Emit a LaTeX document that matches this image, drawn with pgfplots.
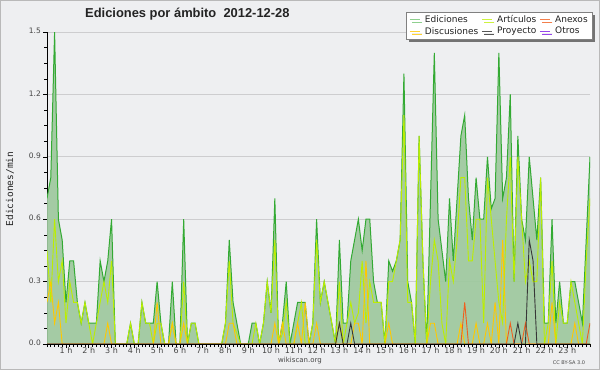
\documentclass[border=0pt]{standalone}
\usepackage{fontspec}
\setmainfont{DejaVu Sans}
\newfontfamily\titlefont{Liberation Sans}
\newfontfamily\ylabfont{DejaVu Sans Mono}
\usepackage{pgfplots}
\pgfplotsset{compat=1.18}
\usepackage{pgfplotstable}
\usetikzlibrary{shadows}

\definecolor{bg}{RGB}{238,239,241}
\definecolor{border}{RGB}{185,185,185}
\definecolor{gridc}{RGB}{205,205,207}
\definecolor{totline}{RGB}{51,170,51}
\definecolor{totfill}{RGB}{158,201,158}
\definecolor{artc}{RGB}{188,238,0}
\definecolor{discc}{RGB}{255,200,0}
\definecolor{anxc}{RGB}{240,95,30}
\definecolor{proyc}{RGB}{55,55,55}
\definecolor{otrc}{RGB}{150,70,235}
\definecolor{txt}{RGB}{35,35,35}
\definecolor{ltxt}{RGB}{70,70,70}

\pgfplotstableread{
i tot art disc anx proy
0 0.7 0.45 0.2 0 0
1 0.8 0.2 0.3 0 0
2 1.5 0.6 0.1 0 0
3 0.6 0.3 0.2 0 0
4 0.5 0.4 0 0 0
5 0.2 0.1 0 0 0
6 0.4 0.3 0 0 0
7 0.4 0.2 0 0 0
8 0.2 0.2 0 0 0
9 0.1 0.1 0 0 0
10 0.2 0.2 0 0 0
11 0.1 0.1 0 0 0
12 0.1 0 0 0 0
13 0.1 0.1 0 0 0
14 0.4 0.2 0 0 0
15 0.3 0.3 0 0 0
16 0.4 0.2 0.1 0 0
17 0.6 0.4 0 0 0
18 0 0 0 0 0
19 0 0 0 0 0
20 0 0 0 0 0
21 0 0 0 0 0
22 0.1 0.1 0 0 0
23 0 0 0 0 0
24 0 0 0 0 0
25 0.2 0.2 0 0 0
26 0.1 0.1 0 0 0
27 0.1 0.1 0 0 0
28 0.1 0 0 0 0
29 0.3 0.1 0.2 0 0
30 0.1 0.1 0 0 0
31 0 0 0 0 0
32 0 0 0 0 0
33 0.3 0.1 0.1 0 0
34 0 0 0 0 0
35 0 0 0 0 0
36 0.6 0.3 0.1 0 0
37 0 0 0 0 0
38 0.1 0.1 0 0 0
39 0.1 0.1 0 0 0
40 0 0 0 0 0
41 0 0 0 0 0
42 0 0 0 0 0
43 0 0 0 0 0
44 0 0 0 0 0
45 0 0 0 0 0
46 0 0 0 0 0
47 0.1 0.1 0 0 0
48 0.5 0.4 0.1 0 0
49 0.2 0.1 0.1 0 0
50 0.1 0.05 0 0 0
51 0 0 0 0 0
52 0 0 0 0 0
53 0 0 0 0 0
54 0.1 0 0 0 0
55 0.1 0.1 0 0 0
56 0 0 0 0 0
57 0.1 0.1 0 0 0
58 0.3 0.3 0 0 0
59 0.15 0.15 0 0 0
60 0.7 0.5 0.1 0 0
61 0 0 0 0 0
62 0.1 0.05 0.1 0 0
63 0.3 0.2 0 0 0
64 0 0 0 0 0
65 0.1 0 0 0 0
66 0.2 0.1 0.1 0 0
67 0.2 0.2 0 0 0
68 0.2 0 0.2 0 0
69 0 0 0 0 0
70 0.1 0.1 0 0 0
71 0.6 0.5 0.1 0 0
72 0.2 0.2 0 0 0
73 0.3 0.3 0 0 0
74 0.2 0.2 0 0 0
75 0.1 0.1 0 0 0
76 0 0 0 0 0
77 0.5 0.3 0.1 0 0.1
78 0.1 0 0 0 0
79 0.1 0.1 0 0 0
80 0.4 0.2 0 0 0.1
81 0.5 0.1 0.1 0 0
82 0.6 0.15 0.1 0 0
83 0.45 0.4 0 0 0
84 0.6 0.1 0.4 0 0
85 0.6 0.3 0 0 0
86 0.3 0.2 0 0 0
87 0.2 0.2 0 0 0
88 0.2 0.2 0 0 0
89 0 0 0 0 0
90 0.4 0.3 0.1 0 0
91 0.35 0.3 0 0 0
92 0.4 0.4 0 0 0
93 0.5 0.5 0 0 0
94 1.3 1.1 0 0 0
95 0.3 0.2 0 0 0
96 0.2 0.2 0 0 0
97 0 0 0 0 0
98 1.0 1.0 0 0 0
99 0.4 0.4 0 0 0
100 0 0 0 0 0
101 0.7 0.3 0.1 0 0
102 1.4 0.5 0.1 0 0
103 0.6 0.4 0 0 0
104 0.45 0.1 0 0 0
105 0.3 0 0 0 0
106 0.7 0.4 0 0 0
107 0.4 0.3 0 0 0
108 0.7 0.5 0 0 0
109 1.0 0.8 0.1 0 0
110 1.1 0.8 0 0.2 0
111 0.7 0.4 0 0 0
112 0.5 0.4 0 0 0
113 0.8 0.6 0.1 0 0
114 0.6 0.6 0 0 0
115 0.6 0.1 0 0 0
116 0.9 0.8 0.1 0 0
117 0.65 0.6 0 0 0
118 0.7 0.4 0.2 0 0
119 1.4 0.2 0 0 0
120 0.7 0.1 0.5 0 0
121 0.8 0.6 0 0 0
122 1.2 0.9 0 0.1 0
123 0.3 0.3 0 0 0
124 1.0 0.9 0 0 0.1
125 0.6 0.6 0 0 0
126 0.5 0.3 0 0.1 0
127 0.9 0.4 0 0 0.5
128 0.7 0.3 0 0 0.4
129 0.5 0.3 0 0 0
130 0.8 0.8 0 0 0
131 0.1 0 0 0 0
132 0.1 0.1 0 0 0
133 0.6 0.4 0.2 0 0
134 0.1 0 0 0 0
135 0.3 0.2 0 0 0
136 0.1 0.1 0 0 0
137 0.1 0.1 0 0 0
138 0.3 0.3 0 0 0
139 0.3 0.2 0.1 0 0
140 0.2 0.1 0 0 0
141 0.1 0 0 0 0
142 0.5 0.4 0 0 0
143 0.9 0.7 0 0.1 0
}\data

\begin{document}
\begin{tikzpicture}[x=1pt,y=1pt]
\fill[bg] (0,0) rectangle (600,370);
\path[use as bounding box] (0,0) rectangle (600,370);
\draw[border, line width=1pt] (0.5,0.5) rectangle (599.5,369.5);

\begin{axis}[
  at={(47pt,26pt)}, anchor=south west,
  scale only axis, width=543pt, height=312pt,
  xmin=0, xmax=143, ymin=0, ymax=1.5,
  axis x line*=bottom, axis y line*=left,
  axis line style={black, line width=0.8pt, -},
  xtick={5,11,...,137},
  xticklabels={1 h,2 h,3 h,4 h,5 h,6 h,7 h,8 h,9 h,10 h,11 h,12 h,13 h,14 h,15 h,16 h,17 h,18 h,19 h,20 h,21 h,22 h,23 h},
  minor xtick={0,1,...,143},
  ytick={0,0.3,0.6,0.9,1.2,1.5},
  yticklabels={0.0,0.3,0.6,0.9,1.2,1.5},
  minor ytick={0.075,0.15,0.225,0.375,0.45,0.525,0.675,0.75,0.825,0.975,1.05,1.125,1.275,1.35,1.425},
  tick align=outside,
  major tick length=4pt, minor tick length=3pt,
  every tick/.style={black, line width=0.6pt},
  ymajorgrids, grid style={gridc, line width=0.8pt},
  xticklabel style={font=\fontsize{8}{9}\selectfont, text=ltxt, inner sep=1pt, yshift=2pt},
  yticklabel style={font=\fontsize{7.5}{8}\selectfont, text=ltxt, inner sep=1pt, xshift=-1pt, yshift=1pt},
  legend columns=3,
  legend cell align=left,
  legend style={at={(1.0055,1.065)}, anchor=north east, fill=white,
    draw=gray, line width=0.6pt, font=\fontsize{9}{9.5}\selectfont, text=txt,
    inner xsep=3pt, inner ysep=1.5pt, row sep=-1pt,
    drop shadow={shadow xshift=2.5pt, shadow yshift=-2.5pt, fill=gray!90!black, opacity=1},
    /tikz/every odd column/.append style={column sep=3pt},
    /tikz/every even column/.append style={column sep=1pt}},
  legend image code/.code={\draw[#1, line width=0.8pt] (0pt,0pt) -- (10pt,0pt);},
]
\addlegendimage{color=totline!55!white}\addlegendentry{Ediciones}
\addlegendimage{color=artc!75!white}\addlegendentry{Artículos}
\addlegendimage{color=anxc!80!white}\addlegendentry{Anexos}
\addlegendimage{color=discc!80!white}\addlegendentry{Discusiones}
\addlegendimage{color=proyc!85!white}\addlegendentry{Proyecto}
\addlegendimage{color=otrc}\addlegendentry{Otros}

\addplot[draw=none, fill=totfill, fill opacity=0.92, forget plot] table[x=i,y=tot]{\data} \closedcycle;
\addplot[totline, line width=1pt, forget plot] table[x=i,y=tot]{\data};
\addplot[artc, line width=0.9pt, forget plot] table[x=i,y=art]{\data};
\addplot[discc, line width=0.9pt, forget plot] table[x=i,y=disc]{\data};
\addplot[anxc, line width=0.9pt, forget plot] table[x=i,y=anx]{\data};
\addplot[proyc, line width=0.9pt, forget plot] table[x=i,y=proy]{\data};
\draw[black, line width=0.8pt] (axis cs:0,0) -- (axis cs:143,0);
\end{axis}

\node[anchor=base west, inner sep=0pt, font=\titlefont\bfseries\fontsize{12.9}{14}\selectfont, text=txt] at (85,352) {Ediciones por ámbito\ \ 2012-12-28};
\node[rotate=90, inner sep=0pt, font=\ylabfont\fontsize{9.5}{10}\selectfont, text=txt] at (10,181) {Ediciones/min};
\node[inner sep=0pt, font=\fontsize{7}{8}\selectfont, text=ltxt] at (300,9) {wikiscan.org};
\node[inner sep=0pt, font=\fontsize{5}{6}\selectfont, text=ltxt] at (569,7) {CC BY-SA 3.0};
\end{tikzpicture}
\end{document}
